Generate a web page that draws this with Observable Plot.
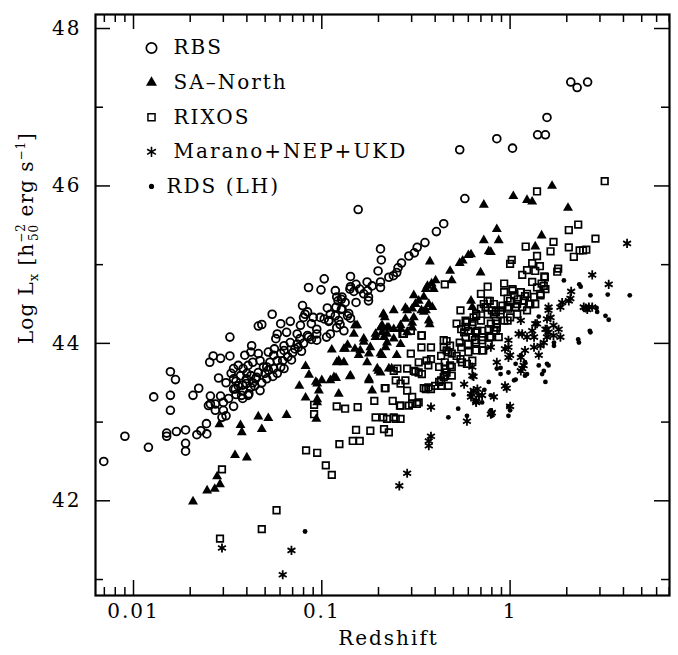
<!DOCTYPE html>
<html><head><meta charset="utf-8">
<script src="https://cdn.jsdelivr.net/npm/d3@7"></script>
<script src="https://cdn.jsdelivr.net/npm/@observablehq/plot@0.6"></script>
<style>body{margin:0;background:#fff}svg{display:block}</style>
</head><body><div id="chart"></div>
<script>
// [redshift, log Lx]
const rbs = [
[0.54,46.46],[0.85,46.60],[1.03,46.48],[1.40,46.65],[1.54,46.65],[1.57,46.87],[2.10,47.32],[2.27,47.25],[2.58,47.32],[0.575,45.84],[0.156,45.70],
[0.444,45.52],[0.406,45.42],[0.353,45.28],[0.321,45.22],[0.31,45.15],[0.29,45.11],[0.205,45.20],[0.207,45.06],[0.265,45.02],[0.254,44.96],[0.25,44.90],[0.24,44.86],[0.199,44.92],[0.227,44.84],[0.205,44.78],[0.205,44.71],[0.174,44.78],[0.142,44.85],[0.185,44.73],
[0.152,44.75],[0.159,44.69],[0.148,44.66],[0.141,44.69],[0.167,44.63],[0.177,44.59],[0.128,44.59],[0.122,44.54],[0.133,44.52],[0.152,44.52],[0.177,44.54],[0.119,44.46],[0.128,44.44],[0.139,44.38],[0.123,44.29],[0.125,44.24],[0.118,44.67],[0.127,44.56],[0.142,44.72],[0.175,44.67],[0.127,44.43],[0.118,44.35],[0.109,44.28],[0.142,44.32],[0.103,44.82],[0.085,44.71],[0.099,44.68],[0.107,44.45],[0.12,44.59],[0.109,44.29],[0.12,44.20],[0.106,44.08],[0.103,44.31],[0.111,44.37],[0.137,44.35],[0.131,44.16],[0.111,44.12],
[0.0545,44.37],[0.046,44.22],[0.048,44.24],[0.079,44.48],[0.084,44.40],[0.080,44.33],[0.090,44.33],[0.098,44.33],[0.0605,44.25],[0.068,44.28],[0.077,44.23],[0.094,44.18],[0.058,44.12],[0.065,44.14],[0.074,44.12],[0.084,44.10],[0.094,44.12],[0.0815,44.37],[0.088,44.25],[0.094,44.04],[0.074,43.99],[0.063,43.91],[0.058,43.78],[0.051,43.70],[0.063,43.68],[0.0555,43.85],[0.0605,43.87],[0.063,43.97],[0.057,44.06],[0.068,44.01],[0.052,43.89],[0.046,43.87],[0.072,43.93],[0.0765,44.06],[0.085,44.08],
[0.0325,44.08],[0.0424,43.97],[0.0265,43.84],[0.029,43.81],[0.0325,43.84],[0.0254,43.76],[0.0283,43.56],[0.034,43.68],[0.036,43.72],[0.0382,43.68],[0.0406,43.72],[0.043,43.76],[0.047,43.78],[0.049,43.70],[0.053,43.76],[0.0555,43.68],[0.0605,43.70],[0.034,43.55],[0.037,43.59],[0.0398,43.55],[0.042,43.59],[0.0445,43.55],[0.051,43.55],[0.034,43.42],[0.036,43.46],[0.0382,43.40],[0.0406,43.34],[0.044,43.46],[0.047,43.40],[0.042,43.89],[0.039,43.85],[0.045,43.57],[0.0398,43.49],[0.041,43.36],[0.0347,43.42],[0.0375,43.34],
[0.031,43.50],[0.033,43.62],[0.035,43.52],[0.038,43.47],[0.040,43.62],[0.043,43.50],[0.046,43.63],[0.048,43.50],[0.050,43.62],[0.052,43.66],[0.055,43.58],[0.058,43.62],[0.062,43.78],[0.066,43.83],[0.070,43.88],[0.075,43.95],[0.080,44.00],[0.088,44.05],[0.035,43.35],[0.038,43.30],[0.042,43.44],[0.032,43.30],[0.069,43.79],[0.078,43.90],[0.056,43.93],
[0.0222,43.43],[0.0207,43.34],[0.0256,43.33],[0.0256,43.23],[0.0272,43.23],[0.029,43.33],[0.030,43.25],[0.0272,43.15],[0.030,43.15],[0.034,43.20],[0.0295,43.06],[0.031,43.08],[0.0244,42.98],[0.0228,42.89],[0.0217,42.84],[0.0245,42.85],[0.025,43.21],
[0.00695,42.50],[0.0090,42.82],[0.012,42.68],[0.0128,43.32],[0.0157,43.64],[0.0167,43.54],[0.0157,43.34],[0.0157,43.15],[0.015,42.86],[0.015,42.82],[0.0169,42.88],[0.0189,42.90],[0.0189,42.73],[0.0189,42.63]
];
const saNorth = [
[0.0207,41.99],[0.0246,42.13],[0.027,42.15],[0.0288,42.21],[0.0278,42.31],[0.0346,42.58],[0.040,42.55],[0.0286,42.97],[0.037,42.96],[0.0376,42.87],[0.046,43.07],[0.052,43.05],[0.048,42.91],[0.065,43.09],[0.076,43.46],[0.082,43.71],[0.0855,43.60],[0.082,43.31],[0.093,43.51],[0.0965,43.40],[0.0945,43.29],[0.100,43.53],[0.0935,43.04],[0.0945,43.25],[0.0945,43.49],
[0.111,43.53],[0.119,43.56],[0.123,43.36],[0.141,43.58],[0.113,43.92],[0.131,43.93],[0.137,43.98],[0.148,44.12],[0.154,44.23],[0.167,44.02],[0.181,43.95],[0.178,43.53],[0.185,43.40],[0.197,43.68],[0.212,44.37],[0.222,44.20],[0.214,44.08],[0.218,43.95],[0.193,44.12],[0.160,43.91],[0.120,43.76],[0.116,43.57],
[0.150,44.23],[0.167,44.06],[0.193,44.08],[0.209,44.23],[0.209,44.14],[0.227,44.20],[0.241,44.18],[0.262,44.18],[0.284,44.14],[0.302,44.20],[0.241,44.06],[0.213,44.37],[0.216,44.33],[0.241,44.42],[0.278,44.31],[0.284,44.42],[0.302,44.44],[0.338,44.42],[0.357,44.42],[0.386,44.46],[0.37,44.50],[0.314,44.50],[0.308,44.61],[0.327,44.54],[0.348,44.59],[0.357,44.69],[0.393,44.69],[0.364,44.73],[0.383,44.76],[0.402,44.80],[0.308,44.33],[0.37,44.29],[0.374,44.24],[0.302,44.26],[0.262,44.23],[0.348,44.40],[0.278,44.45],
[0.375,45.04],[0.48,44.92],[0.49,44.80],[0.54,45.02],[0.56,45.05],[0.60,45.12],[0.62,45.13],[0.697,44.90],[0.77,45.17],[0.79,45.16],[0.725,45.31],[0.725,45.76],[0.62,44.54],[0.63,44.46],[0.85,45.45],[0.87,45.31],[1.04,45.87],[1.23,45.82],[1.31,45.80],[1.67,46.00],[2.03,45.72],[1.47,45.37],[1.36,45.23],
[0.133,43.93],[0.15,43.93],[0.157,43.85],[0.178,43.87],[0.209,43.85],[0.123,43.78],[0.131,43.76],[0.174,43.76],[0.227,43.68],[0.20,43.65],[0.178,43.55],[0.142,43.59],
[0.222,44.01],[0.262,43.99],[0.205,43.87],[0.25,43.85],[0.235,43.68],[0.205,43.63],[0.222,44.12],[0.205,44.20]
];
const rixos = [
[0.0295,42.40],[0.0288,41.52],[0.048,41.64],[0.0575,41.88],[0.091,43.22],[0.091,43.10],[0.0825,42.64],[0.0945,42.61],[0.105,42.45],[0.113,42.33],[0.12,43.20],[0.133,43.17],[0.155,43.19],[0.152,42.90],[0.146,42.76],[0.159,42.76],[0.124,42.72],[0.181,42.89],[0.193,43.06],[0.212,43.06],[0.222,43.04],[0.19,43.27],[0.214,42.91],[0.216,43.43],[0.227,42.87],[0.241,43.06],[0.262,43.04],[0.247,43.04],
[0.238,43.27],[0.26,43.21],[0.29,43.21],[0.302,43.32],[0.32,43.23],[0.284,43.40],[0.262,43.49],[0.247,43.53],[0.278,43.53],[0.252,43.68],[0.284,43.68],[0.314,43.64],[0.34,43.61],[0.327,43.76],[0.36,43.78],[0.368,43.72],[0.38,43.80],[0.43,43.84],[0.47,43.89],[0.45,43.76],[0.42,43.70],[0.45,43.68],[0.49,43.70],[0.45,43.59],[0.49,43.59],[0.43,43.53],[0.40,43.46],[0.357,43.42],[0.38,43.42],[0.43,43.46],[0.47,43.46],[0.338,43.95],[0.38,43.95],[0.444,44.04],[0.48,43.97],[0.54,44.01],[0.599,43.99],[0.66,44.01],[0.71,44.04],[0.78,44.08],[0.60,43.89],[0.66,43.91],[0.71,43.91],[0.555,43.76],[0.59,43.74],[0.52,43.84],[0.297,43.87],[0.241,43.65],[0.308,43.65],[0.327,43.63],[0.348,43.43],[0.368,43.44],[0.42,43.51],[0.444,43.57],[0.46,43.63],[0.48,43.72],[0.63,43.78],[0.218,43.43],[0.327,43.25],[0.302,43.23],[0.262,43.21],
[0.268,44.12],[0.297,44.16],[0.338,44.10],[0.444,43.95],[0.46,43.91],[0.49,43.87],[0.545,43.80],[0.45,44.75],[0.76,44.72],[0.70,44.63],[0.78,44.54],[0.74,44.46],[0.80,44.42],[0.66,44.37],[0.55,44.18],[0.58,44.21],[0.63,44.23],[0.66,44.14],[0.71,44.16],[0.77,44.18],[0.71,44.08],[0.79,44.08],[0.58,44.08],[0.63,44.08],[0.273,44.12],[0.46,44.03],[0.65,44.04],[0.55,43.95],[0.34,44.10],[0.545,44.42],[0.66,44.35],[0.725,44.50],[0.84,44.40],[0.91,44.48],[0.79,44.25],[0.84,44.16],[0.87,44.08],[0.77,43.99],[0.72,43.91],[0.52,44.25],[0.58,44.29],[0.63,44.27],[0.57,44.14],[0.60,44.16],
[3.18,46.06],[1.39,45.93],[2.05,45.44],[2.30,45.51],[2.84,45.33],[1.70,45.29],[1.21,45.23],[2.05,45.22],[2.34,45.18],[2.44,45.18],[2.54,45.19],[1.64,45.17],[1.39,45.11],[1.02,45.06],[1.00,45.01],[1.31,45.02],[1.44,44.98],[1.23,44.93],[1.36,44.92],[1.16,44.87],[1.53,44.84],[1.47,44.76],[1.80,44.95],[1.78,44.91],[2.18,45.10],[0.93,44.76],[0.93,44.65],[1.03,44.69],[1.05,44.61],[0.97,44.57],[1.14,44.65],[1.23,44.63],[1.34,44.59],[1.45,44.63],[1.18,44.54],[1.28,44.50],[1.09,44.50],[0.97,44.46],[0.89,44.37],[0.82,44.50],[0.76,44.54],[0.70,44.44],[0.76,44.37],[0.84,44.29],[0.70,44.29],[0.64,44.33],[0.59,44.27],[0.67,44.16],[0.85,44.20],[0.97,44.29],[1.09,44.37],[1.23,44.42],[1.36,44.50],[1.39,44.71],[1.31,44.78],[1.51,44.73],[1.52,44.85],[1.54,44.69],[1.03,44.67],[1.00,44.54],[1.26,44.50],[1.16,44.46],[1.07,44.46],[0.98,44.44],[0.89,44.42],[0.82,44.37],[1.00,44.33],[0.93,44.29],[0.85,44.25],[0.82,44.16],[1.45,44.61],[1.10,44.56],[1.20,44.60]
];
const marano = [
[0.0295,41.40],[0.069,41.37],[0.062,41.06],[0.258,42.19],[0.284,42.35],[0.37,42.70],[0.37,42.76],[0.38,42.82],[0.38,43.19],[0.59,43.01],[0.62,43.32],[0.68,43.34],[0.66,43.27],[0.82,43.32],[0.64,43.40],[0.57,43.48],[0.64,43.58],[0.63,43.70],[0.85,43.76],[0.96,43.43],[1.00,43.20],[1.18,43.72],[1.14,43.65],[0.98,43.95],[0.98,43.82],[0.98,44.04],[1.11,44.12],[1.14,43.82],[1.20,43.91],[1.34,43.95],[1.42,43.85],[1.34,44.08],[1.51,44.01],[1.39,44.25],[1.60,44.46],[1.64,44.33],[1.57,44.18],[1.70,44.23],[1.85,44.46],[1.81,44.18],[1.70,44.10],[1.85,44.08],[2.46,44.46],[2.62,44.46],[2.73,44.46],[2.05,44.54],[1.89,44.52],[4.18,45.27],[2.73,44.87],[3.34,44.75],[2.11,44.66],[2.09,44.57],[2.52,44.45],[2.57,44.43],[1.60,44.42],[1.57,44.31],[1.36,44.25],[1.54,44.18],[1.60,44.14],[1.57,44.08],[1.31,44.16],[1.23,44.08],[1.16,44.12],[1.45,43.97],[1.14,44.29],[0.94,43.93],[1.00,43.85],[1.16,43.68],[0.94,43.46],[0.80,43.12],[0.79,43.95],[0.63,43.59],[0.67,43.42],[0.71,43.34],[0.62,43.36],[0.79,43.10],[0.66,43.25]
];
const rds = [
[0.0815,41.61],[2.32,44.01],[2.67,44.14],[3.34,44.30],[3.21,44.35],[2.90,44.40],[1.71,43.97],[1.71,44.01],[1.57,43.74],[1.51,43.65],[1.54,43.51],[1.42,43.72],[1.14,43.85],[1.20,43.76],[1.23,43.61],[0.98,43.63],[1.05,43.53],[0.89,43.61],[0.85,43.68],[0.77,43.51],[0.79,43.34],[0.79,43.15],[0.80,43.08],[0.98,43.20],[1.00,43.15],[0.98,43.08],[0.71,43.25],[0.59,43.08],[0.53,43.17],[0.47,43.06],[0.50,43.35],[4.32,44.61],[3.30,44.62],[2.67,44.61],[2.37,44.72],[1.93,44.80],[2.88,44.45],[2.30,44.05],[1.60,43.72],[1.20,43.59],[1.07,43.54],[1.42,44.34],[1.07,43.74],[0.89,43.69],[2.33,44.75],[2.65,44.16],[0.73,43.41],[1.48,43.61]
];
const xMajorTicks = [0.01, 0.1, 1];
const xMinorTicks = [0.007,0.008,0.009,0.02,0.03,0.04,0.05,0.06,0.07,0.08,0.09,0.2,0.3,0.4,0.5,0.6,0.7,0.8,0.9,2,3,4,5,6,7];
const yMajorTicks = [42, 44, 46, 48];
const yMinorTicks = [41, 43, 45, 47];
const seriesNames = ["RBS", "SA\u2013North", "RIXOS", "Marano+NEP+UKD", "RDS (LH)"];

const W = 678, H = 655, mL = 95, mR = 9, mT = 14, mB = 60;
const fw = W - mL - mR, fh = H - mT - mB;
const tMaj = 15, tMin = 8;
const font = "'DejaVu Serif', serif";

const styles = [
  {symbol: "circle", r: 3.9, fill: "none", stroke: "black", strokeWidth: 1.8},
  {symbol: "triangle", r: 3.7, fill: "black", stroke: "none"},
  {symbol: "square", r: 3.7, fill: "none", stroke: "black", strokeWidth: 1.7},
  {symbol: "asterisk", r: 4.3, fill: "none", stroke: "black", strokeWidth: 1.8},
  {symbol: "circle", r: 2.4, fill: "black", stroke: "none"}
];
const legendStyles = [
  {symbol: "circle", r: 5.2, fill: "none", stroke: "black", strokeWidth: 1.7},
  {symbol: "triangle", r: 4.1, fill: "black", stroke: "none"},
  {symbol: "square", r: 4.0, fill: "none", stroke: "black", strokeWidth: 1.5},
  {symbol: "asterisk", r: 4.8, fill: "none", stroke: "black", strokeWidth: 1.6},
  {symbol: "circle", r: 2.6, fill: "black", stroke: "none"}
];
const series = [rbs, saNorth, rixos, marano, rds];

const marks = [];
series.forEach((data, i) => {
  marks.push(Plot.dot(data, {x: d => d[0], y: d => d[1], ...styles[i]}));
});
// ticks on all four sides, pointing inward
const tk = {stroke: "black", strokeWidth: 1.5};
marks.push(
  Plot.ruleX(xMajorTicks, {x: d => d, insetTop: fh - tMaj, ...tk}),
  Plot.ruleX(xMajorTicks, {x: d => d, insetBottom: fh - tMaj, ...tk}),
  Plot.ruleX(xMinorTicks, {x: d => d, insetTop: fh - tMin, ...tk}),
  Plot.ruleX(xMinorTicks, {x: d => d, insetBottom: fh - tMin, ...tk}),
  Plot.ruleY(yMajorTicks, {y: d => d, insetRight: fw - tMaj, ...tk}),
  Plot.ruleY(yMajorTicks, {y: d => d, insetLeft: fw - tMaj, ...tk}),
  Plot.ruleY(yMinorTicks, {y: d => d, insetRight: fw - tMin, ...tk}),
  Plot.ruleY(yMinorTicks, {y: d => d, insetLeft: fw - tMin, ...tk}),
  Plot.frame({stroke: "black", strokeWidth: 2.2}),
  Plot.axisX(xMajorTicks, {tickSize: 0, tickPadding: 8, tickFormat: d => String(d), label: null, fontSize: 20}),
  Plot.axisY(yMajorTicks, {tickSize: 0, tickPadding: 14, tickFormat: d => String(d), label: null, fontSize: 20}),
  Plot.text(["Redshift"], {frameAnchor: "bottom", dx: 6, dy: 43, text: d => d, lineAnchor: "middle", fontSize: 20})
);
// legend inside the frame
seriesNames.forEach((name, i) => {
  const dy = 33.5 + 34.6 * i;
  marks.push(Plot.dot([name], {frameAnchor: "top-left", dx: 56, dy, ...legendStyles[i]}));
  marks.push(Plot.text([name], {frameAnchor: "top-left", dx: i === 4 ? 71 : 78, dy, text: d => d, textAnchor: "start", lineAnchor: "middle", fontSize: 20}));
});

const plot = Plot.plot({
  width: W, height: H,
  marginLeft: mL, marginRight: mR, marginTop: mT, marginBottom: mB,
  x: {type: "log", domain: [0.006283, 7.023]},
  y: {domain: [40.797, 48.178]},
  style: {fontFamily: font, fontSize: "20px", letterSpacing: "2px", background: "white", color: "black"},
  marks
});
document.getElementById("chart").appendChild(plot);

// y-axis title with sub/superscripts
const lab = d3.select(plot).append("text")
  .attr("transform", "translate(33,238) rotate(-90)")
  .attr("text-anchor", "middle")
  .attr("font-family", font)
  .attr("font-size", 20)
  .attr("letter-spacing", 1)
  .attr("fill", "black");
lab.append("tspan").text("Log L");
lab.append("tspan").attr("font-size", 13).attr("dy", 5).text("x");
lab.append("tspan").attr("dy", -5).text(" [h");
lab.append("tspan").attr("font-size", 12).attr("dy", -8).text("\u22122");
lab.append("tspan").attr("font-size", 12).attr("dx", -18).attr("dy", 13).text("50");
lab.append("tspan").attr("dy", -5).text(" erg s");
lab.append("tspan").attr("font-size", 12).attr("dy", -8).text("\u22121");
lab.append("tspan").attr("dy", 8).text("]");
</script>
</body></html>
